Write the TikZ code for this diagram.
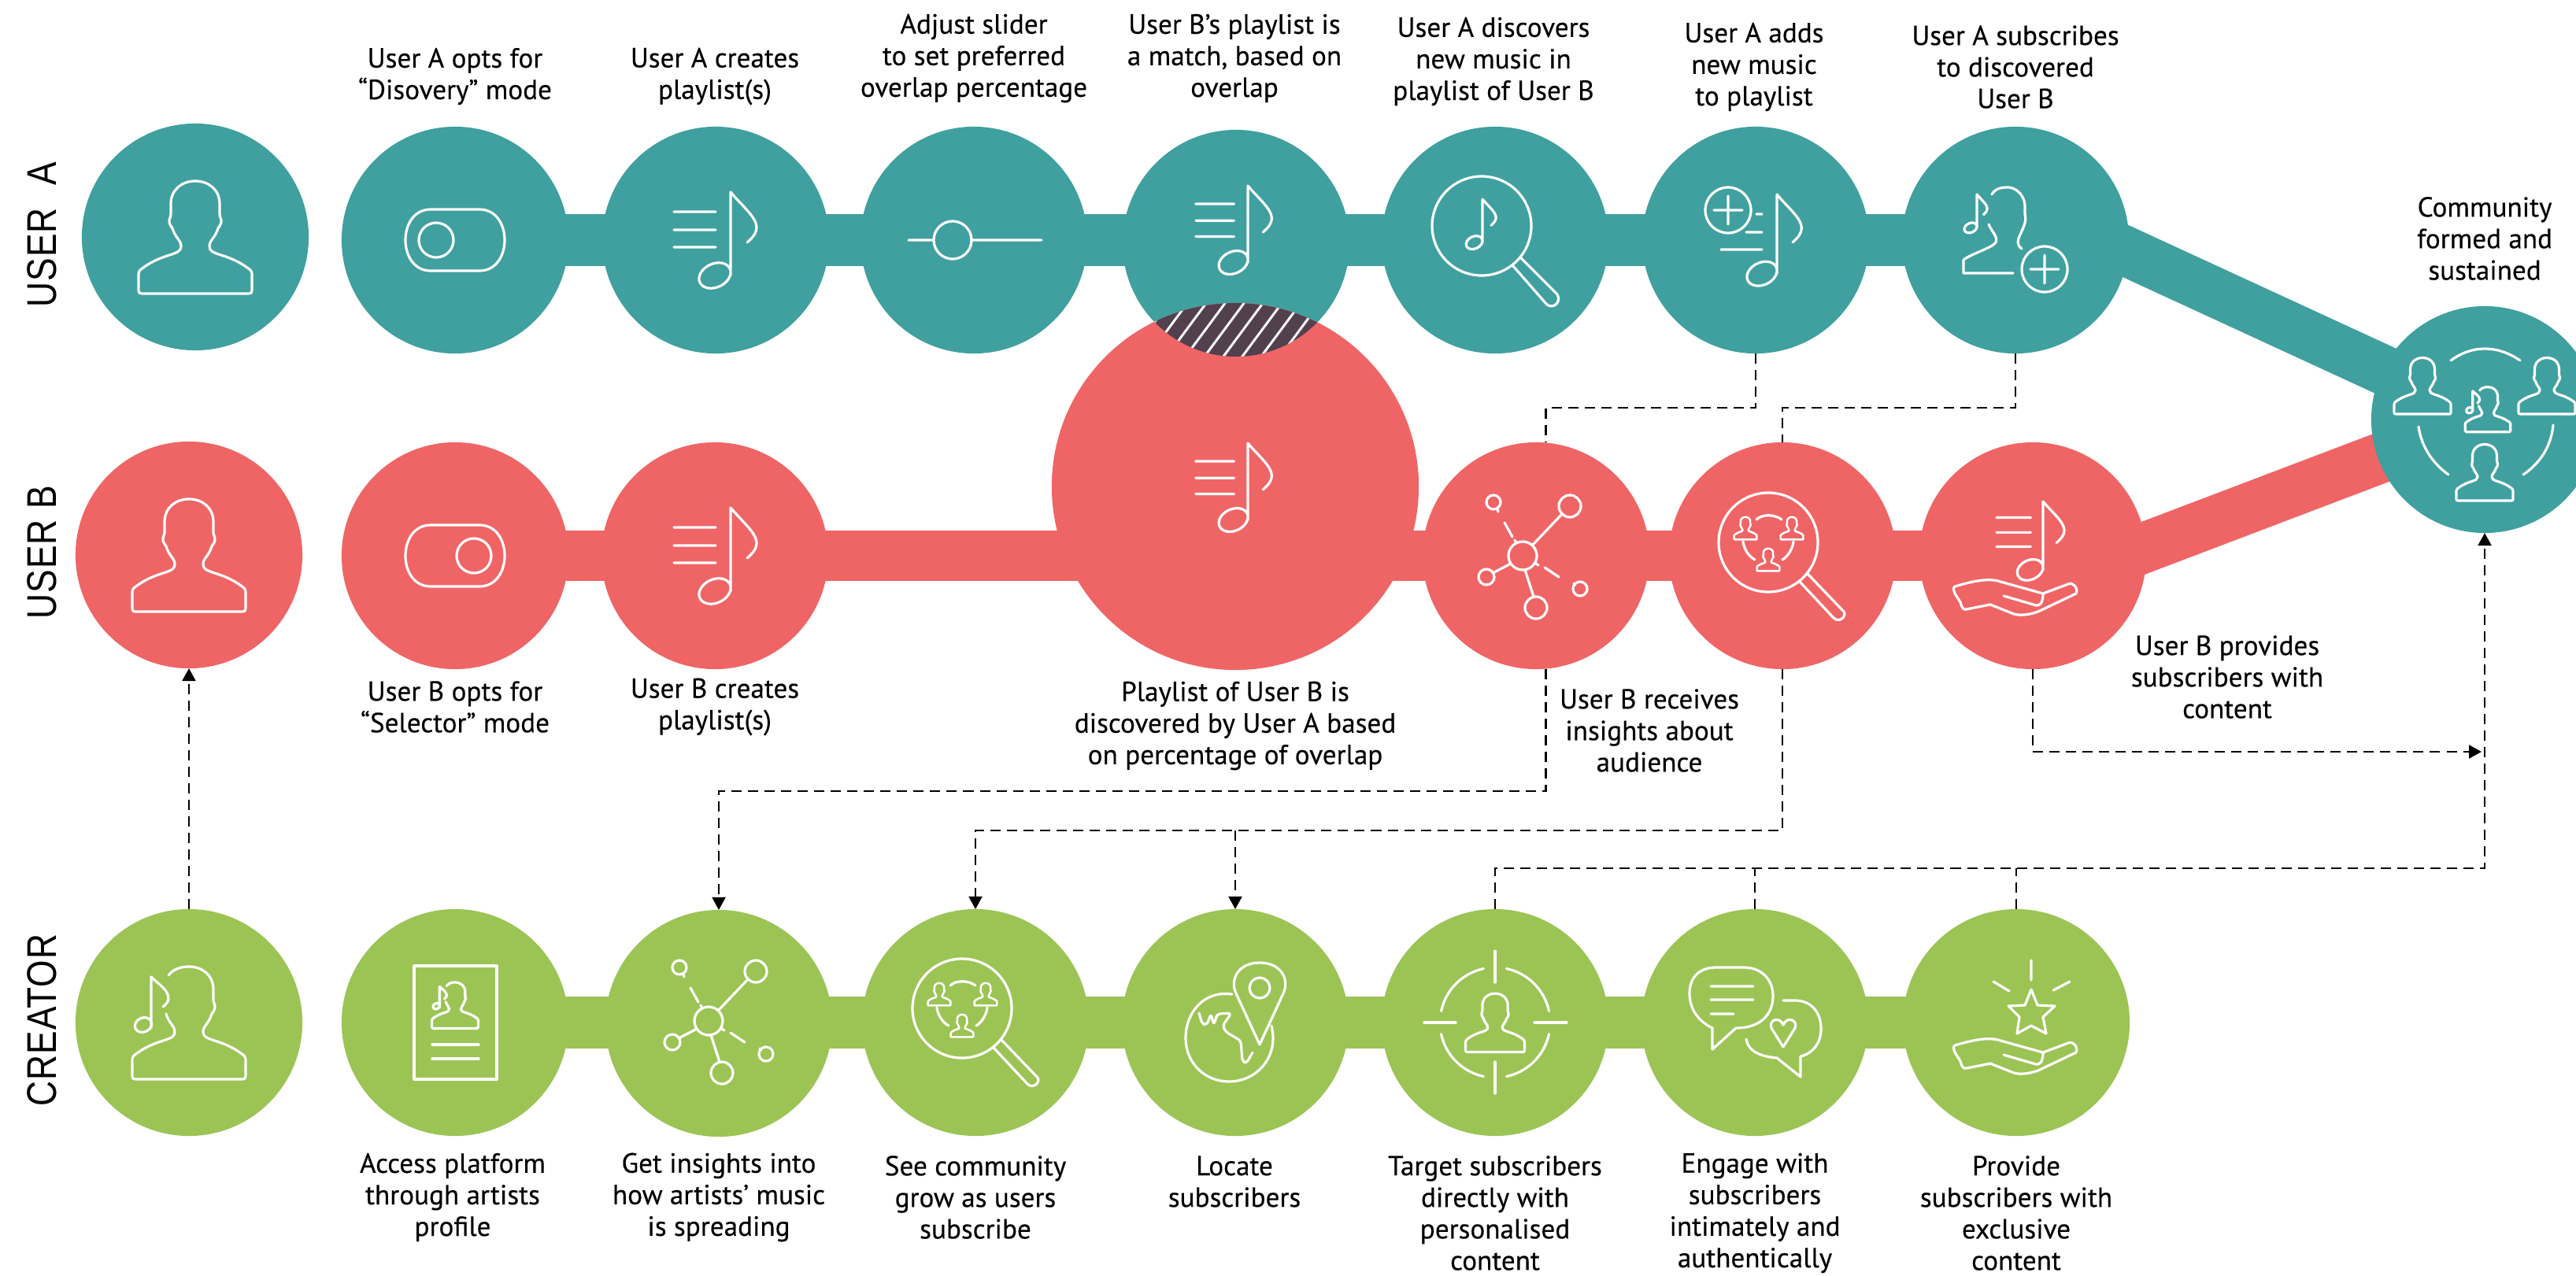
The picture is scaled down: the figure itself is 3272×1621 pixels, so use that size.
\documentclass[tikz,border=0pt]{standalone}
\usepackage{fontspec}
\setmainfont[FakeBold=0.35]{PT Sans}
\newfontfamily\rowfont[LetterSpace=2,FakeStretch=0.84]{Liberation Sans}
\usetikzlibrary{backgrounds,arrows.meta,calc}
\definecolor{teal}{HTML}{3FA09F}
\definecolor{coral}{HTML}{EF6566}
\definecolor{leaf}{HTML}{9BC455}
\definecolor{plum}{HTML}{52404E}
\newcommand\PersonShape{(-68,72) -- (68,72) .. controls (71,72) and (72,71) .. (72,68) -- (72,47) .. controls (72,43) and (69,41) .. (66,39) .. controls (40,20) and (18,24) .. (18,12) .. controls (18,4) and (25,2) .. (29,-11) .. controls (31,-14) and (33,-16) .. (33,-20) .. controls (33,-24) and (31,-25) .. (31,-29) -- (31,-42) .. controls (31,-60) and (17,-71) .. (0,-71) .. controls (-17,-71) and (-31,-60) .. (-31,-42) -- (-31,-29) .. controls (-31,-25) and (-33,-24) .. (-33,-20) .. controls (-33,-16) and (-31,-14) .. (-29,-11) .. controls (-25,2) and (-18,4) .. (-18,12) .. controls (-18,24) and (-40,20) .. (-66,39) .. controls (-69,41) and (-72,43) .. (-72,47) -- (-72,68) .. controls (-72,71) and (-71,72) .. (-68,72) -- cycle}
\newcommand\CreatorShape{(-26,-60) .. controls (-20,-68) and (-10,-71) .. (0,-71) .. controls (17,-71) and (31,-60) .. (31,-42) -- (31,-29) .. controls (31,-25) and (33,-24) .. (33,-20) .. controls (33,-16) and (31,-14) .. (29,-11) .. controls (25,2) and (18,4) .. (18,12) .. controls (18,24) and (40,20) .. (66,39) .. controls (69,41) and (72,43) .. (72,47) -- (72,68) .. controls (72,71) and (71,72) .. (68,72) -- (-68,72) .. controls (-71,72) and (-72,71) .. (-72,68) -- (-72,47) .. controls (-72,43) and (-69,41) .. (-66,39) .. controls (-40,20) and (-18,24) .. (-18,12) .. controls (-18,4) and (-25,2) .. (-29,-11)
 (-48,7) -- (-48,-58) .. controls (-38,-48) and (-26,-42) .. (-26,-30) .. controls (-26,-27) and (-29,-23) .. (-33,-20)
 (-58,3) ellipse [x radius=11,y radius=9,rotate=25]}
\newcommand\NoteShape{(0,106) -- (0,0) .. controls (15,18) and (33,32) .. (33,45) .. controls (33,52) and (28,58) .. (21,64) (-20,106) ellipse [x radius=21,y radius=15,rotate=25]}
\newcommand\NoteLines{(-72,25) -- (-19,25) (-72,48) -- (-19,48) (-72,70) -- (-19,70)}
\newcommand\ToggleShape{(-31,-39) -- (31,-39) .. controls (52,-39) and (63,-20) .. (63,0) .. controls (63,20) and (52,39) .. (31,39) -- (-31,39) .. controls (-52,39) and (-63,20) .. (-63,0) .. controls (-63,-20) and (-52,-39) .. (-31,-39) -- cycle}
\newcommand\NetShape{(0,0) circle [radius=18] (60,-63) circle [radius=14] (17,66) circle [radius=14] (-46,27) circle [radius=10] (-37,-68) circle [radius=9] (73,42) circle [radius=9]
 (12,-13) -- (50,-53) (3,18) -- (14,52) (-15,10) -- (-38,22)
 (-32,-59) -- (-31,-56) (-23,-42) -- (-13,-24) (-10,-20) -- (-8,-16)
 (17,10) -- (20,12) (28,15) -- (46,27) (65,35) -- (67,37)}
% magnifier with three small users, origin = lens centre
\newcommand\UsersLens{(0,0) circle [radius=63]
 (40,50) -- (83,96) .. controls (90,103) and (100,94) .. (96,88) -- (50,40)
 (-15,-29) .. controls (-8,-36) and (8,-36) .. (17,-29)
 (-32,-1) .. controls (-31,8) and (-25,18) .. (-17,22)
 (32,-1) .. controls (31,8) and (25,18) .. (18,22)}
\newcommand\HandShape{(-77,-12) .. controls (-60,-17) and (-35,-24) .. (-19,-18) -- (35,-3) -- (67,-15) .. controls (73,-18) and (80,-10) .. (77,-3) -- (35,17) .. controls (24,23) and (8,26) .. (-2,23) -- (-32,11) -- (-62,17) .. controls (-66,18) and (-68,16) .. (-70,8) -- (-77,-3) .. controls (-79,-8) and (-79,-11) .. (-77,-12) -- cycle
 (-15,0) -- (26,12) .. controls (31,13) and (35,9) .. (35,-3)}
\tikzset{x=0.01cm,y=-0.01cm,
 disc/.style={circle,inner sep=0pt,outer sep=0pt,minimum size=2.88cm},
 tealdisc/.style={disc,fill=teal}, coraldisc/.style={disc,fill=coral}, leafdisc/.style={disc,fill=leaf},
 tealbar/.style={draw=teal,line width=0.65cm}, coralbar/.style={draw=coral,line width=0.64cm}, leafbar/.style={draw=leaf,line width=0.66cm},
 icon/.style={draw=white,line width=0.032cm,line cap=round,line join=round},
 dashline/.style={draw=black,line width=0.022cm,dash pattern=on 0.13cm off 0.08cm},
 arrowline/.style={dashline,-{Triangle[length=0.16cm,width=0.17cm]}},
 lab/.style={align=center,inner sep=0pt,text=black,font=\fontsize{10pt}{11.4pt}\selectfont},
 rowlab/.style={rotate=90,inner sep=0pt,text=black,font=\fontsize{15pt}{18pt}\rowfont}}
\begin{document}
\begin{tikzpicture}
\useasboundingbox (0,0) rectangle (3272,1621);
% discs
\node[tealdisc] (a1) at (248,301) {};
\node[tealdisc] (a2) at (578,305) {};
\node[tealdisc] (a3) at (909,305) {};
\node[tealdisc] (a4) at (1237,305) {};
\node[tealdisc] (a5) at (1570,309) {};
\node[tealdisc] (a6) at (1899,305) {};
\node[tealdisc] (a7) at (2230,305) {};
\node[tealdisc] (a8) at (2560,305) {};
\node[coraldisc] (b1) at (240,705) {};
\node[coraldisc] (b2) at (578,706) {};
\node[coraldisc] (b3) at (908,706) {};
\node[coraldisc,minimum size=4.66cm] (big) at (1569,618) {};
\node[coraldisc] (b4) at (1951,706) {};
\node[coraldisc] (b5) at (2264,706) {};
\node[coraldisc] (b6) at (2582,706) {};
\node[leafdisc] (c1) at (240,1299) {};
\node[leafdisc] (c2) at (578,1299) {};
\node[leafdisc] (c3) at (913,1300) {};
\node[leafdisc] (c4) at (1239,1299) {};
\node[leafdisc] (c5) at (1569,1299) {};
\node[leafdisc] (c6) at (1899,1299) {};
\node[leafdisc] (c7) at (2229,1299) {};
\node[leafdisc] (c8) at (2561,1299) {};
% bars
\begin{scope}[on background layer]
\draw[tealbar] (a2.center) -- (a8.center);
\draw[coralbar] (b2.center) -- (b6.center);
\draw[leafbar] (c2.center) -- (c8.center);
\coordinate (dA1) at (2650,296);
\coordinate (dA2) at (3060,485);
\coordinate (dB1) at (2660,720);
\coordinate (dB2) at (3060,568);
\draw[draw=teal,line width=0.63cm] (dA1) -- (dA2);
\draw[draw=coral,line width=0.64cm] (dB1) -- (dB2);
\end{scope}
\node[tealdisc] (hub) at (3156,533) {};
% overlap
\begin{scope}
\clip (a5.center) circle [radius=144];
\fill[plum] (big.center) circle [radius=233];
\clip (big.center) circle [radius=233];
\foreach \k in {-6,...,6}
  \draw[white,line width=0.03cm] ({1579+24*\k-40},473) -- ({1579+24*\k+40},365);
\end{scope}
% dashed connectors
\coordinate (ya) at (0,518);
\coordinate (yb) at (0,1005);
\coordinate (yc) at (0,1055);
\coordinate (yd) at (0,955);
\coordinate (ye) at (0,1103);
\draw[arrowline] (c1.north) -- (b1.south);
\draw[dashline] (a7.south) -- (a7.south |- ya) -- (b4.85 |- ya) -- (b4.85);
\draw[dashline] (a8.south) -- (a8.south |- ya) -- (b5.north |- ya) -- (b5.north);
\draw[arrowline] (b4.-85) -- (b4.-85 |- yb) -- (c3.north |- yb) -- (c3.north);
\draw[arrowline] (b5.south) -- (b5.south |- yc) -- (c4.north |- yc) -- (c4.north);
\draw[arrowline] (c5.north |- yc) -- (c5.north);
\draw[arrowline] (b6.south) -- (b6.south |- yd) -- ($(hub.south |- yd)+(-4,0)$);
\draw[arrowline] (c6.north) -- (c6.north |- ye) -- (hub.south |- ye) -- (hub.south);
\draw[dashline] (c7.north) -- (c7.north |- ye);
\draw[dashline] (c8.north) -- (c8.north |- ye);
% users
\draw[icon,shift={(a1.center)}] \PersonShape;
\draw[icon,shift={(b1.center)}] \PersonShape;
\draw[icon,shift={(c1.center)}] \CreatorShape;
% toggle
\draw[icon,shift={(a2.center)}] \ToggleShape (-24,0) circle [radius=22];
\draw[icon,shift={(b2.center)}] \ToggleShape (24,0) circle [radius=22];
% notes with lines
\draw[icon,shift={(928,244)}] \NoteShape \NoteLines;
\draw[icon,shift={(928,645)}] \NoteShape \NoteLines;
\draw[icon,shift={(1585,236)},scale=0.92] \NoteShape \NoteLines;
\draw[icon,shift={(1585,563)},scale=0.92] \NoteShape \NoteLines;
% slider
\draw[icon] (1154,305) -- (1186,305) (1234,305) -- (1323,305) (1210,305) circle [radius=24];
% magnifier with note (User A discovers)
\draw[icon] (1882,287) circle [radius=63] (1922,338) -- (1964,386) .. controls (1972,394) and (1984,384) .. (1978,374) -- (1931,327);
\draw[icon,shift={(1883,253)},scale=0.52] \NoteShape;
% plus note
\draw[icon,shift={(2257,247)},scale=0.95] \NoteShape;
\draw[icon] (2195,267) circle [radius=29] (2177,267) -- (2213,267) (2195,249) -- (2195,285) (2231,272) -- (2238,272) (2218,295) -- (2238,295) (2186,317) -- (2238,317);
% subscribe icon
\draw[icon,shift={(2511,247)},scale=0.4] \NoteShape;
\draw[icon] (2530,247) .. controls (2535,238) and (2545,238) .. (2552,238) .. controls (2565,240) and (2572,252) .. (2572,262) -- (2572,272) .. controls (2574,280) and (2572,285) .. (2566,298) .. controls (2562,306) and (2562,312) .. (2568,316)
 (2526,285) .. controls (2530,295) and (2538,300) .. (2535,308) .. controls (2530,315) and (2505,322) .. (2494,330) -- (2494,347) -- (2557,347)
 (2597,342) circle [radius=29] (2579,342) -- (2615,342) (2597,324) -- (2597,360);
% network
\draw[icon,shift={(1934,706)}] \NetShape;
\draw[icon,shift={(900,1297)}] \NetShape;
% users lens
\newcommand\lensusers[2]{%
 \draw[icon,shift={(#1,#2)}] \UsersLens;
 \draw[icon,line width=0.025cm,shift={(#1-29,#2-18)},scale=0.2] \PersonShape;
 \draw[icon,line width=0.025cm,shift={(#1+30,#2-18)},scale=0.2] \PersonShape;
 \draw[icon,line width=0.025cm,shift={(#1,#2+22)},scale=0.2] \PersonShape;}
\lensusers{2246}{689}
\lensusers{1222}{1281}
% note in hand
\draw[icon,shift={(2595,637)},scale=0.82] \NoteShape \NoteLines;
\draw[icon,shift={(2560,757)}] \HandShape;
% hub
\draw[icon,shift={(3077,490)},scale=0.5] \PersonShape;
\draw[icon,shift={(3235,490)},scale=0.5] \PersonShape;
\draw[icon,shift={(3156,600)},scale=0.5] \PersonShape;
\draw[icon,shift={(3160,520)},scale=0.4] \CreatorShape;
\draw[icon] (3113,458) .. controls (3140,438) and (3172,438) .. (3201,458)
 (3072,542) .. controls (3076,570) and (3092,590) .. (3110,603)
 (3243,540) .. controls (3240,570) and (3224,590) .. (3205,603);
% sheet
\draw[icon] (526,1227) rectangle (631,1371) (549,1327) -- (608,1327) (549,1345) -- (608,1345);
\draw[icon,shift={(578,1277)},scale=0.41] \CreatorShape;
% globe and pin
\draw[icon] (1565,1263) .. controls (1530,1258) and (1506,1285) .. (1506,1319) .. controls (1506,1350) and (1530,1374) .. (1561,1374) .. controls (1592,1374) and (1617,1350) .. (1617,1319) .. controls (1617,1313) and (1616,1308) .. (1615,1303);
\draw[icon,rounded corners=0.04cm] (1523,1287) -- (1527,1301) -- (1533,1302) -- (1538,1288) -- (1542,1302) -- (1546,1288) -- (1564,1287) -- (1553,1303) -- (1557,1311) -- (1576,1322) -- (1578,1348) -- (1583,1351) -- (1591,1337);
\draw[icon,fill=leaf] (1600,1327) -- (1570,1262) .. controls (1562,1245) and (1572,1223) .. (1600,1223) .. controls (1628,1223) and (1638,1245) .. (1630,1262) -- cycle;
\draw[icon] (1600,1255) circle [radius=13];
% target
\draw[icon,shift={(1899,1299)},scale=0.52] \PersonShape;
\draw[icon] (1899,1208) -- (1899,1248) (1899,1349) -- (1899,1389) (1809,1299) -- (1849,1299) (1949,1299) -- (1990,1299);
\foreach \s/\e in {-168/-102,-78/-12,12/78,102/168}
  \draw[icon,shift={(1899,1299)}] (\s:70) arc [start angle=\s,end angle=\e,radius=70];
% speech bubbles
\draw[icon] (2175,1333) -- (2175,1306) .. controls (2155,1296) and (2146,1280) .. (2146,1262) .. controls (2146,1240) and (2160,1229) .. (2180,1229) -- (2215,1229) .. controls (2238,1229) and (2252,1245) .. (2252,1265) .. controls (2252,1290) and (2235,1306) .. (2205,1306) -- cycle
 (2173,1253) -- (2227,1253) (2173,1270) -- (2227,1270) (2173,1288) -- (2202,1288)
 (2265,1271) -- (2280,1271) .. controls (2300,1271) and (2313,1285) .. (2313,1307) .. controls (2313,1325) and (2303,1338) .. (2287,1342) -- (2287,1368) -- (2257,1344) .. controls (2235,1342) and (2220,1335) .. (2218,1320)
 (2265,1330) -- (2250,1306) .. controls (2246,1296) and (2260,1290) .. (2265,1302) .. controls (2270,1290) and (2284,1296) .. (2280,1306) -- cycle;
% star and hand
\draw[icon] (2580,1257) -- (2588,1277) -- (2610,1278) -- (2595,1292) -- (2599,1313) -- (2580,1303) -- (2562,1313) -- (2565,1292) -- (2551,1278) -- (2572,1277) -- cycle
 (2580,1220) -- (2580,1245) (2532,1247) -- (2552,1259) (2629,1247) -- (2608,1258);
\draw[icon,shift={(2560,1340)}] \HandShape;
% row labels
\node[rowlab] (r1) at (53,298) {USER\hspace{0.3em} A};
\node[rowlab] (r2) at (53,702) {USER B};
\node[rowlab] (r3) at (53,1296) {CREATOR};
% texts
\node[lab] (t1) at (578,97) {User A opts for\\“Disovery” mode};
\node[lab] (t2) at (908,97) {User A creates\\playlist(s)};
\node[lab] (t3) at (1237,74) {Adjust slider\\to set preferred\\overlap percentage};
\node[lab] (t4) at (1568,74) {User B’s playlist is\\a match, based on\\overlap};
\node[lab] (t5) at (1897,78) {User A discovers\\new music in\\playlist of User B};
\node[lab] (t6) at (2228,85) {User A adds\\new music\\to playlist};
\node[lab] (t7) at (2560,85) {User A subscribes\\to discovered\\User B};
\node[lab] (t8) at (3156,303) {Community\\formed and\\sustained};
\node[lab] (t9) at (578,898) {User B opts for\\“Selector” mode};
\node[lab] (t10) at (908,898) {User B creates\\playlist(s)};
\node[lab] (t11) at (1569,922) {Playlist of User B is\\discovered by User A based\\on percentage of overlap};
\node[lab] (t12) at (2095,928) {User B receives\\insights about\\audience};
\node[lab] (t13) at (2829,860) {User B provides\\subscribers with\\content};
\node[lab] (t14) at (575,1521) {Access platform\\through artists\\profile};
\node[lab] (t15) at (913,1521) {Get insights into\\how artists’ music\\is spreading};
\node[lab] (t16) at (1239,1521) {See community\\grow as users\\subscribe};
\node[lab] (t17) at (1568,1501) {Locate\\subscribers};
\node[lab] (t18) at (1899,1541) {Target subscribers\\directly with\\personalised\\content};
\node[lab] (t19) at (2229,1541) {Engage with\\subscribers\\intimately and\\authentically};
\node[lab] (t20) at (2561,1541) {Provide\\subscribers with\\exclusive\\content};
\end{tikzpicture}
\end{document}
